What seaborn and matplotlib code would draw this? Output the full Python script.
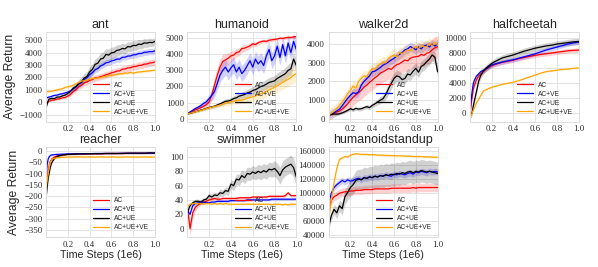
import numpy as np
import matplotlib
matplotlib.use("Agg")
import matplotlib.pyplot as plt
import seaborn as sns

# ---------------- data ----------------
labels = ["AC", "AC+VE", "AC+UE", "AC+UE+VE"]
colors = ["red", "blue", "black", "orange"]
titles = ["ant", "humanoid", "walker2d", "halfcheetah", "reacher", "swimmer", "humanoidstandup"]

x41 = [0.0, 0.025, 0.05, 0.075, 0.1, 0.125, 0.15, 0.175, 0.2, 0.225, 0.25, 0.275, 0.3, 0.325,
       0.35, 0.375, 0.4, 0.425, 0.45, 0.475, 0.5, 0.525, 0.55, 0.575, 0.6, 0.625, 0.65, 0.675,
       0.7, 0.725, 0.75, 0.775, 0.8, 0.825, 0.85, 0.875, 0.9, 0.925, 0.95, 0.975, 1.0]

# ant
ant_ac = [0, 80, 170, 190, 260, 290, 360, 390, 510, 640, 870, 1030, 1270, 1380, 1570, 1630, 1770, 1830, 1970, 1990,
          2070, 2130, 2220, 2280, 2370, 2430, 2520, 2530, 2670, 2680, 2770, 2780, 2870, 2880, 2970, 2980, 3070,
          3080, 3170, 3180, 3250]
ant_ve = [350, 420, 480, 560, 580, 660, 690, 760, 820, 930, 1080, 1230, 1480, 1580, 1820, 1980, 2230, 2380, 2620,
          2720, 2920, 3020, 3180, 3220, 3330, 3380, 3480, 3470, 3620, 3630, 3720, 3730, 3820, 3830, 3920, 3930,
          4020, 4030, 4080, 4070, 4150]
ant_ue = [-400, 250, 320, 300, 420, 430, 520, 580, 720, 880, 1150, 1280, 1520, 1680, 1950, 2080, 2450, 2650, 3050,
          3150, 3480, 3550, 3850, 3800, 3980, 4020, 4180, 4220, 4330, 4300, 4480, 4460, 4580, 4560, 4680, 4650,
          4780, 4760, 4820, 4800, 4900]
ant_uve = [850, 870, 890, 960, 990, 1060, 1090, 1210, 1240, 1310, 1390, 1510, 1590, 1710, 1740, 1810, 1840, 1910,
           1940, 1960, 1990, 2060, 2090, 2160, 2190, 2210, 2240, 2310, 2290, 2360, 2340, 2410, 2340, 2410, 2440,
           2460, 2490, 2510, 2540, 2560, 2600]
ant_ac_sd = [80, 80, 80, 80, 100, 100, 100, 100, 120, 150, 180, 200, 220, 240, 250, 250, 250, 260, 260, 260, 260,
             260, 270, 270, 270, 270, 270, 280, 280, 280, 280, 280, 280, 280, 280, 280, 280, 280, 280, 280, 280]
ant_ve_sd = [100, 100, 100, 100, 100, 100, 120, 120, 150, 180, 200, 220, 250, 250, 250, 250, 250, 250, 250, 260,
             260, 260, 260, 260, 260, 260, 250, 250, 250, 250, 250, 250, 250, 250, 250, 250, 250, 250, 250, 250, 250]
ant_ue_sd = [150, 100, 100, 100, 100, 100, 100, 120, 150, 200, 250, 300, 320, 350, 380, 400, 420, 440, 460, 480,
             500, 500, 480, 470, 460, 450, 440, 430, 420, 410, 400, 400, 390, 380, 370, 360, 350, 340, 330, 320, 300]
ant_uve_sd = 100

# humanoid
hum_ac = [300, 380, 470, 560, 620, 700, 780, 870, 1050, 1500, 2100, 2700, 3200, 3550, 3650, 3750, 3900, 3950, 4100,
          4150, 4350, 4380, 4450, 4520, 4650, 4600, 4720, 4780, 4820, 4800, 4870, 4900, 4920, 4950, 5000, 4980,
          5020, 5050, 5040, 5080, 5100]
hum_ve = [300, 420, 530, 640, 720, 820, 950, 1050, 1250, 1450, 1700, 2200, 2700, 3000, 3200, 2900, 3150, 3350,
          2900, 3200, 2800, 3000, 3300, 3600, 3200, 3700, 3400, 3600, 3300, 3900, 4300, 3600, 3900, 4500, 3800,
          4600, 3900, 4700, 4100, 4800, 4300]
hum_ue = [300, 340, 380, 440, 480, 540, 580, 640, 700, 730, 780, 850, 920, 1000, 1080, 1100, 1150, 1250, 1300,
          1400, 1450, 1500, 1600, 1650, 1750, 1800, 1900, 2000, 2050, 2150, 2250, 2300, 2350, 2500, 2600, 2700,
          2800, 3000, 3100, 3700, 3300]
hum_uve = [300, 340, 380, 430, 470, 520, 570, 620, 680, 720, 760, 800, 850, 900, 960, 1000, 1040, 1080, 1120,
           1150, 1150, 1200, 1280, 1320, 1350, 1420, 1480, 1560, 1600, 1700, 1800, 1870, 1950, 2050, 2150, 2250,
           2350, 2450, 2550, 2700, 2800]
hum_ac_sd = [50, 60, 80, 100, 120, 150, 180, 200, 250, 350, 450, 500, 500, 450, 400, 350, 300, 280, 260, 240, 220,
             200, 180, 170, 160, 150, 140, 130, 120, 110, 100, 100, 100, 100, 100, 100, 100, 100, 100, 100, 100]
hum_ve_sd = [50, 60, 80, 100, 120, 150, 180, 200, 250, 300, 350, 400, 450, 500, 500, 500, 500, 500, 500, 500, 500,
             500, 500, 500, 500, 500, 500, 500, 500, 500, 500, 500, 500, 500, 500, 500, 500, 500, 500, 500, 500]
hum_ue_sd = [50, 50, 60, 60, 70, 70, 80, 80, 100, 100, 100, 120, 120, 150, 150, 150, 180, 180, 200, 200, 200, 220,
             220, 250, 250, 250, 280, 280, 300, 300, 300, 320, 320, 350, 350, 350, 380, 380, 400, 400, 400]
hum_uve_sd = [50, 50, 60, 60, 70, 70, 80, 80, 100, 100, 100, 120, 120, 150, 150, 180, 180, 200, 200, 220, 220, 250,
              250, 280, 280, 300, 300, 320, 320, 350, 350, 380, 380, 400, 400, 420, 420, 450, 450, 480, 500]

# walker2d
wal_ac = [200, 240, 300, 360, 420, 520, 650, 800, 990, 1150, 1280, 1400, 1530, 1700, 1800, 1950, 2070, 2200, 2300,
          2450, 2520, 2600, 2700, 2650, 2790, 2900, 2950, 3050, 3150, 3100, 3250, 3300, 3330, 3350, 3450, 3400,
          3510, 3550, 3700, 3800, 3870]
wal_ve = [200, 260, 330, 420, 520, 700, 900, 1100, 1260, 1400, 1350, 1450, 1800, 2000, 2150, 2300, 2520, 2550,
          2650, 2750, 2880, 2950, 3050, 3150, 3240, 3350, 3450, 3550, 3690, 3750, 3870, 3800, 3700, 3850, 3750,
          3900, 3950, 3850, 4000, 3900, 4000]
wal_ue = [200, 230, 260, 250, 270, 320, 380, 450, 540, 480, 560, 520, 540, 600, 650, 600, 720, 800, 900, 1000,
          1080, 1300, 1620, 1900, 2160, 2300, 2250, 2100, 2160, 2400, 2350, 2550, 2700, 2500, 2800, 2900, 3060,
          3200, 3420, 3300, 2520]
wal_uve = [200, 300, 420, 550, 720, 900, 1100, 1350, 1530, 1750, 1650, 2000, 2160, 2300, 2250, 2500, 2700, 2650,
           2850, 2950, 3060, 3000, 3250, 3350, 3420, 3300, 3550, 3500, 3600, 3700, 3650, 3800, 3870, 3750, 3950,
           3850, 3870, 4050, 3900, 4100, 3960]
wal_ac_sd = [50, 80, 100, 150, 200, 250, 300, 350, 400, 450, 450, 450, 500, 500, 500, 500, 550, 550, 550, 550, 550,
             550, 600, 600, 600, 600, 600, 600, 600, 600, 600, 600, 600, 600, 600, 600, 600, 600, 600, 600, 600]
wal_ve_sd = 250
wal_ue_sd = [50, 50, 50, 60, 60, 60, 80, 80, 100, 100, 100, 100, 100, 100, 120, 120, 120, 150, 150, 200, 200, 250,
             300, 300, 300, 300, 300, 300, 300, 300, 300, 300, 300, 300, 300, 300, 300, 300, 300, 300, 300]
wal_uve_sd = 300

# halfcheetah
hc_x = [0.0, 0.01, 0.02, 0.03, 0.04, 0.06, 0.08, 0.1, 0.125, 0.15, 0.2, 0.25, 0.3, 0.35, 0.4, 0.45, 0.5, 0.55,
        0.6, 0.65, 0.7, 0.75, 0.8, 0.85, 0.9, 0.95, 1.0]
hc_ac = [-500, 1000, 2000, 3000, 3600, 4400, 4900, 5200, 5500, 5850, 6300, 6550, 6750, 6900, 7050, 7250, 7400,
         7550, 7700, 7800, 7900, 8000, 8100, 8200, 8300, 8350, 8400]
hc_ve = [-500, 1500, 2700, 3800, 4300, 4900, 5200, 5500, 5700, 5900, 6400, 6600, 6800, 6950, 7100, 7300, 7500,
         7700, 7900, 8150, 8400, 8600, 8800, 9000, 9200, 9350, 9450]
hc_ue = [-500, -300, 0, 800, 1500, 2800, 4200, 5000, 5600, 6000, 6600, 7000, 7350, 7550, 7750, 8000, 8250, 8450,
         8650, 8800, 8950, 9050, 9200, 9300, 9400, 9500, 9550]
hc_uve = [-500, -400, -100, 300, 600, 1300, 1800, 2300, 2900, 3100, 3400, 3600, 3800, 3950, 4100, 4300, 4550, 4800,
          5050, 5300, 5500, 5600, 5700, 5800, 5850, 5950, 6000]
hc_ac_sd = 300
hc_ve_sd = 300
hc_ue_sd = 420
hc_uve_sd = 60

# reacher
re_x = [0.0, 0.01, 0.02, 0.03, 0.04, 0.05, 0.06, 0.08, 0.1, 0.15, 0.2, 0.25, 0.3, 0.35, 0.4, 0.45, 0.5, 0.55, 0.6,
        0.65, 0.7, 0.75, 0.8, 0.85, 0.9, 0.95, 1.0]
re_ac = [-160, -120, -90, -60, -45, -38, -32, -26, -22, -18, -15, -14, -13, -13, -12, -12, -12, -11, -11, -11, -11,
         -10, -10, -10, -10, -10, -10]
re_ve = [-130, -60, -35, -25, -20, -18, -17, -16, -15, -14, -13, -13, -12, -12, -12, -11, -11, -11, -11, -11, -10,
         -10, -10, -10, -10, -9, -9]
re_ue = [-210, -160, -120, -95, -70, -55, -45, -32, -24, -18, -15, -14, -13, -13, -12, -12, -12, -11, -11, -11, -11,
         -10, -10, -10, -10, -9, -9]
re_uve = [-170, -130, -100, -70, -50, -40, -35, -32, -30, -28, -27, -27, -26, -27, -26, -27, -26, -27, -26, -27,
          -27, -26, -27, -27, -26, -27, -27]
re_ac_sd = 3
re_ve_sd = 2
re_ue_sd = 3
re_uve_sd = 3

# swimmer
sw_ac = [30, 0, 22, 30, 33, 35, 37, 38, 40, 41, 42, 41, 41, 42, 42, 42, 42, 42, 42, 43, 43, 43, 43, 43, 44, 44, 44,
         44, 44, 44, 45, 45, 45, 45, 45, 45, 46, 50, 46, 46, 46]
sw_ve = [25, 20, 32, 35, 36, 37, 37, 36, 36, 37, 37, 38, 38, 38, 38, 38, 39, 39, 39, 39, 39, 39, 40, 40, 40, 40, 40,
         40, 40, 40, 40, 41, 41, 41, 41, 41, 41, 41, 41, 41, 41]
sw_ue = [22, 32, 36, 38, 38, 37, 40, 41, 46, 44, 47, 46, 50, 49, 53, 52, 62, 60, 69, 68, 74, 71, 77, 76, 79, 77, 80,
         78, 81, 79, 83, 82, 84, 80, 74, 82, 86, 88, 90, 85, 72]
sw_uve = [30, 34, 35, 35, 35, 35, 34, 35, 35, 34, 35, 34, 35, 34, 35, 34, 34, 34, 34, 34, 34, 34, 34, 34, 34, 34,
          34, 34, 34, 34, 34, 33, 34, 34, 34, 33, 34, 33, 34, 34, 34]
sw_ac_sd = [5, 10, 8, 5, 3, 2, 2, 2, 2, 2, 2, 2, 2, 2, 2, 2, 2, 2, 2, 2, 2, 2, 2, 2, 2, 2, 2, 2, 2, 2, 2, 2, 2, 2,
            2, 2, 2, 2, 2, 2, 2]
sw_ve_sd = 1.5
sw_ue_sd = [3, 3, 3, 3, 3, 3, 3, 3, 4, 4, 4, 4, 5, 5, 5, 6, 6, 7, 7, 8, 8, 8, 9, 9, 9, 9, 10, 10, 10, 10, 10, 10,
            11, 11, 12, 12, 12, 12, 13, 13, 13]
sw_uve_sd = 1

# humanoidstandup
hs_ac = [75000, 90000, 95000, 97000, 100000, 101000, 102000, 102000, 103000, 103000, 104000, 104000, 104000,
         105000, 105000, 105000, 105000, 106000, 106000, 106000, 106000, 106000, 106000, 107000, 107000, 107000,
         107000, 107000, 107000, 107000, 107000, 108000, 107000, 108000, 108000, 108000, 108000, 108000, 108000,
         108000, 108000]
hs_ve = [85000, 100000, 108000, 112000, 115000, 118000, 116000, 119000, 117000, 118000, 120000, 121000, 119000,
         122000, 121000, 123000, 122000, 124000, 123000, 125000, 124000, 126000, 125000, 124000, 127000, 126000,
         128000, 127000, 126000, 128000, 129000, 127000, 130000, 129000, 131000, 130000, 129000, 131000, 130000,
         131000, 130000]
hs_ue = [52000, 68000, 77000, 72000, 82000, 78000, 95000, 101000, 108000, 112000, 118000, 120000, 119000, 122000,
         121000, 123000, 122000, 124000, 123000, 125000, 124000, 126000, 125000, 127000, 126000, 128000, 127000,
         129000, 128000, 130000, 131000, 129000, 131000, 130000, 132000, 131000, 130000, 131000, 130000, 129000,
         128000]
hs_uve = [60000, 90000, 115000, 135000, 148000, 150000, 152000, 151000, 154000, 155000, 156000, 155500, 155000,
          155000, 155000, 154500, 154500, 154500, 154000, 154000, 154000, 153500, 153500, 153500, 153000, 153000,
          153000, 153000, 152500, 152500, 152500, 152000, 152000, 152000, 152000, 151500, 151500, 151500, 151000,
          151000, 151000]
hs_ac_sd = 6000
hs_ve_sd = 4500
hs_ue_sd = [5000, 6000, 7000, 8000, 8000, 9000, 10000, 11000, 12000, 13000, 14000, 14000, 15000, 15000, 15000,
            15000, 16000, 16000, 16000, 16000, 16000, 16000, 16000, 16000, 16000, 16000, 16000, 16000, 16000,
            16000, 16000, 16000, 16000, 16000, 16000, 16000, 16000, 16000, 16000, 16000, 16000]
hs_uve_sd = 1500

xticks = [0.2, 0.4, 0.6, 0.8, 1.0]
yticks = {
    "ant": [-1000, 0, 1000, 2000, 3000, 4000, 5000],
    "humanoid": [0, 1000, 2000, 3000, 4000, 5000],
    "walker2d": [0, 1000, 2000, 3000, 4000],
    "halfcheetah": [0, 2000, 4000, 6000, 8000, 10000],
    "reacher": [-350, -300, -250, -200, -150, -100, -50, 0],
    "swimmer": [0, 20, 40, 60, 80, 100],
    "humanoidstandup": [40000, 60000, 80000, 100000, 120000, 140000, 160000],
}
ylims = {
    "ant": (-1560, 5650), "humanoid": (-190, 5380), "walker2d": (-160, 4650),
    "halfcheetah": (-1220, 10810), "reacher": (-381, 16), "swimmer": (-12, 113.5),
    "humanoidstandup": (37600, 165000),
}

panels = [
    ("ant", x41, [ant_ac, ant_ve, ant_ue, ant_uve], [ant_ac_sd, ant_ve_sd, ant_ue_sd, ant_uve_sd]),
    ("humanoid", x41, [hum_ac, hum_ve, hum_ue, hum_uve], [hum_ac_sd, hum_ve_sd, hum_ue_sd, hum_uve_sd]),
    ("walker2d", x41, [wal_ac, wal_ve, wal_ue, wal_uve], [wal_ac_sd, wal_ve_sd, wal_ue_sd, wal_uve_sd]),
    ("halfcheetah", hc_x, [hc_ac, hc_ve, hc_ue, hc_uve], [hc_ac_sd, hc_ve_sd, hc_ue_sd, hc_uve_sd]),
    ("reacher", re_x, [re_ac, re_ve, re_ue, re_uve], [re_ac_sd, re_ve_sd, re_ue_sd, re_uve_sd]),
    ("swimmer", x41, [sw_ac, sw_ve, sw_ue, sw_uve], [sw_ac_sd, sw_ve_sd, sw_ue_sd, sw_uve_sd]),
    ("humanoidstandup", x41, [hs_ac, hs_ve, hs_ue, hs_uve], [hs_ac_sd, hs_ve_sd, hs_ue_sd, hs_uve_sd]),
]

# ---------------- style ----------------
sns.set_theme(style="whitegrid")
plt.rcParams["font.family"] = ["Liberation Sans", "DejaVu Sans"]
plt.rcParams["axes.edgecolor"] = "#dddddd"
plt.rcParams["grid.color"] = "#e3e3e3"
plt.rcParams["axes.unicode_minus"] = True

fig = plt.figure(figsize=(5.98, 2.67), dpi=100)
axes = fig.subplots(2, 4)
fig.subplots_adjust(left=0.077, right=0.968, top=0.88, bottom=0.112, wspace=0.296, hspace=0.285)
axes[1, 3].axis("off")

serif = ["Liberation Serif", "DejaVu Serif"]

for idx, (name, xs, series, sds) in enumerate(panels):
    ax = axes.flat[idx]
    xs = np.asarray(xs, dtype=float)
    for y, sd, lab, col in zip(series, sds, labels, colors):
        y = np.asarray(y, dtype=float)
        sd = np.asarray(sd, dtype=float)
        ax.fill_between(xs, y - sd, y + sd, color=col, alpha=0.18, linewidth=0)
        sns.lineplot(x=xs, y=y, color=col, linewidth=0.9, label=lab, ax=ax, errorbar=None, sort=False)
    ax.set_xlim(0, 1.0)
    ax.set_ylim(*ylims[name])
    ax.set_xticks(xticks)
    ax.set_xticklabels([f"{t:.1f}" for t in xticks], fontfamily=serif, fontsize=6.3)
    yt = yticks[name]
    ax.set_yticks(yt)
    ax.set_yticklabels([str(v).replace("-", "\u2212") for v in yt], fontfamily=serif, fontsize=6.3)
    ax.tick_params(axis="both", pad=2.5, length=0)
    ax.grid(True, linewidth=0.7)
    for s in ax.spines.values():
        s.set_linewidth(0.7)
    ax.set_title(name, fontsize=9, pad=3)
    ax.set_xlabel("")
    ax.set_ylabel("")
    ax.legend(loc="lower right", frameon=False, fontsize=4.8, handlelength=2.4,
              handletextpad=0.7, labelspacing=0.3, borderaxespad=0.5)
    if idx in (0, 4):
        ax.set_ylabel("Average Return", fontsize=8.7, labelpad=3)
    if idx >= 4:
        ax.set_xlabel("Time Steps (1e6)", fontsize=7.7, labelpad=1)

fig.savefig("out.png", dpi=100)
